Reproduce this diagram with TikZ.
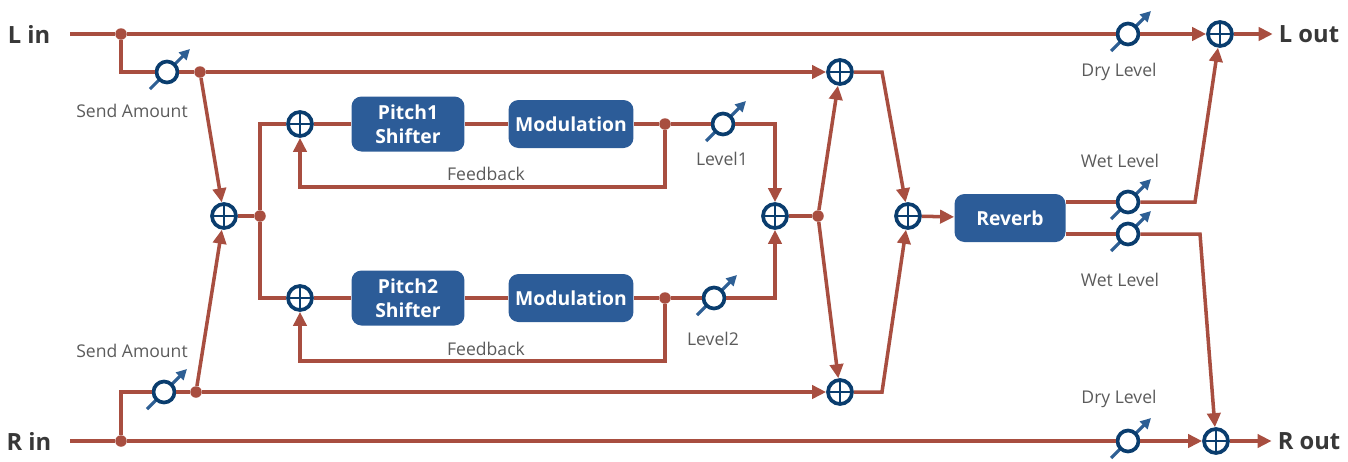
\documentclass[tikz,border=0pt]{standalone}
\usepackage{fontspec}
\setmainfont{Open Sans}
\usepackage{tikz}
\usetikzlibrary{arrows.meta,calc}
\usepackage{xcolor}
\definecolor{sigred}{HTML}{A84E40}
\definecolor{navy}{HTML}{0A3D6E}
\definecolor{knobblue}{HTML}{2E5F94}
\definecolor{fxblue}{HTML}{2C5C98}
\definecolor{lblgray}{HTML}{5B5B5B}
\definecolor{iogray}{HTML}{383838}

\begin{document}
\begin{tikzpicture}[
  x=0.02cm, y=-0.02cm,
  sig/.style={draw=sigred, line width=2pt},
  sigarrow/.style={sig, -{Triangle[length=8pt,width=7.5pt]}},
  adder/.style={circle, draw=navy, fill=white, line width=2.1pt, minimum size=0.48cm, inner sep=0pt,
    path picture={\draw[navy, line width=1pt] (path picture bounding box.north) -- (path picture bounding box.south) (path picture bounding box.west) -- (path picture bounding box.east);}},
  knob/.style={circle, draw=navy, fill=white, line width=2.1pt, minimum size=0.42cm, inner sep=0pt},
  junction/.style={circle, fill=sigred, minimum size=0.23cm, inner sep=0pt},
  fx/.style={fill=fxblue, rounded corners=2mm, text=white, font=\fontsize{11}{13.5}\selectfont\bfseries, align=center, inner sep=0pt},
  lbl/.style={text=lblgray, font=\fontsize{10}{12}\selectfont},
  io/.style={text=iogray, font=\fontsize{13.5}{16}\selectfont\bfseries}
]
  \useasboundingbox (0,0) rectangle (1348,461);

  \node[io] (lin) at (29,34) {L in};
  \node[io] (rin) at (29,441) {R in};
  \node[io] (lout) at (1309,34) {L out};
  \node[io] (rout) at (1309,441) {R out};
  \coordinate (lstart) at (70,34);
  \coordinate (rstart) at (70,441);

  \node[junction] (ldot) at (121,34) {};
  \node[junction] (rdot) at (121,441) {};
  \node[junction] (lsend) at (200,72) {};
  \node[junction] (rsend) at (196,392) {};
  \node[junction] (split) at (260,216) {};
  \node[junction] (fbdot1) at (665,124) {};
  \node[junction] (fbdot2) at (665,298) {};
  \node[junction] (sumdot) at (818,216) {};

  \node[adder] (mixin) at (224,216) {};
  \node[adder] (padd1) at (300,124) {};
  \node[adder] (padd2) at (300,298) {};
  \node[adder] (sumadd) at (775,216) {};
  \node[adder] (topmix) at (840,72) {};
  \node[adder] (botmix) at (840,392) {};
  \node[adder] (revmix) at (908,216) {};
  \node[adder] (loutadd) at (1220,34) {};
  \node[adder] (routadd) at (1216,441) {};

  \foreach \n/\x/\y in {sendl/167/72, sendr/164/392, lvl1/723/124, lvl2/714/298,
                        dryl/1128/34, dryr/1128/441, wetl/1128/202, wetr/1128/234} {
    \draw[knobblue, line width=1.8pt, -{Triangle[length=6pt,width=6pt]}] (\x-17,\y+17) -- (\x+23,\y-23);
    \node[knob] (\n) at (\x,\y) {};
  }

  \node[fx, minimum width=2.26cm, minimum height=1.1cm] (pitch1) at (408,124) {Pitch1\\Shifter};
  \node[fx, minimum width=2.5cm, minimum height=0.96cm] (mod1) at (571,124) {Modulation};
  \node[fx, minimum width=2.26cm, minimum height=1.1cm] (pitch2) at (408,298) {Pitch2\\Shifter};
  \node[fx, minimum width=2.5cm, minimum height=0.96cm] (mod2) at (571,298) {Modulation};
  \node[fx, minimum width=2.22cm, minimum height=0.96cm] (reverb) at (1010,218) {Reverb};

  \node[lbl] (sendllbl) at (132,111) {Send Amount};
  \node[lbl] (sendrlbl) at (132,351) {Send Amount};
  \node[lbl] (fb1lbl) at (486,174) {Feedback};
  \node[lbl] (fb2lbl) at (486,349) {Feedback};
  \node[lbl] (lvl1lbl) at (722,159) {Level1};
  \node[lbl] (lvl2lbl) at (713,339) {Level2};
  \node[lbl] (dryllbl) at (1119,72) {Dry Level};
  \node[lbl] (dryrlbl) at (1119,399) {Dry Level};
  \node[lbl] (wetllbl) at (1120,161) {Wet Level};
  \node[lbl] (wetrlbl) at (1120,280) {Wet Level};

  \coordinate (fb1) at (300,187);
  \coordinate (fb2) at (300,361);
  \coordinate (tbend) at (882,72);
  \coordinate (bbend) at (882,392);
  \coordinate (wlbend) at (1195,202);
  \coordinate (wrbend) at (1200,234);

  \draw[sig] (lstart) -- (ldot) -- (dryl);
  \draw[sigarrow] (dryl) -- (loutadd);
  \draw[sigarrow] (loutadd) -- (lout);
  \draw[sig] (ldot) |- (sendl);
  \draw[sig] (sendl) -- (lsend);
  \draw[sigarrow] (lsend) -- (topmix);
  \draw[sigarrow] (lsend) -- (mixin);

  \draw[sig] (rstart) -- (rdot) -- (dryr);
  \draw[sigarrow] (dryr) -- (routadd);
  \draw[sigarrow] (routadd) -- (rout);
  \draw[sig] (rdot) |- (sendr);
  \draw[sig] (sendr) -- (rsend);
  \draw[sigarrow] (rsend) -- (botmix);
  \draw[sigarrow] (rsend) -- (mixin);

  \draw[sig] (mixin) -- (split);
  \draw[sig] (split) |- (padd1);
  \draw[sig] (split) |- (padd2);

  \draw[sig] (padd1) -- (pitch1) -- (mod1) -- (fbdot1) -- (lvl1);
  \draw[sigarrow] (lvl1) -| (sumadd);
  \draw[sigarrow] (fbdot1) |- (fb1) -- (padd1);
  \draw[sig] (padd2) -- (pitch2) -- (mod2) -- (fbdot2) -- (lvl2);
  \draw[sigarrow] (lvl2) -| (sumadd);
  \draw[sigarrow] (fbdot2) |- (fb2) -- (padd2);

  \draw[sig] (sumadd) -- (sumdot);
  \draw[sigarrow] (sumdot) -- (topmix);
  \draw[sigarrow] (sumdot) -- (botmix);
  \draw[sigarrow] (topmix) -- (tbend) -- (revmix);
  \draw[sigarrow] (botmix) -- (bbend) -- (revmix);
  \draw[sigarrow] (revmix) -- (reverb);

  \draw[sig] (reverb.east |- wetl) -- (wetl);
  \draw[sigarrow] (wetl) -- (wlbend) -- (loutadd);
  \draw[sig] (reverb.east |- wetr) -- (wetr);
  \draw[sigarrow] (wetr) -- (wrbend) -- (routadd);
\end{tikzpicture}
\end{document}
